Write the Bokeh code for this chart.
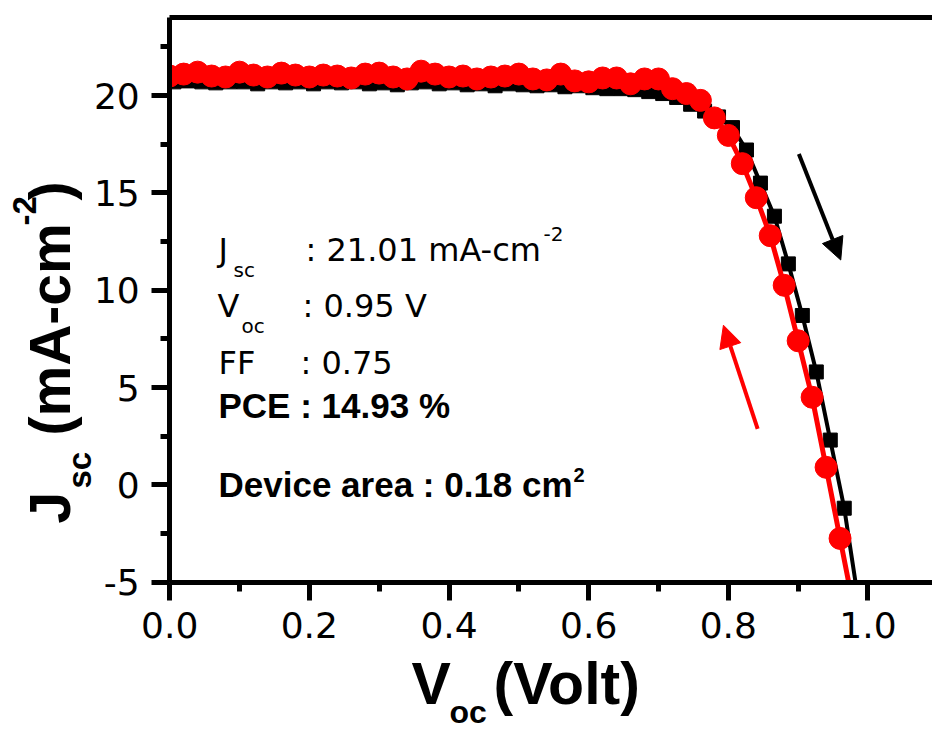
import math
from bokeh.plotting import figure
from bokeh.models import (Range1d, FixedTicker, NumeralTickFormatter, Label, LinearAxis,
                          BoxAnnotation, Arrow, NormalHead)
from bokeh.embed import file_html
from bokeh.resources import INLINE

# Forward scan (red circles): voltage (V) and current density (mA/cm^2)
forward_v = [0.00, 0.02, 0.04, 0.06, 0.08, 0.10, 0.12, 0.14, 0.16, 0.18,
             0.20, 0.22, 0.24, 0.26, 0.28, 0.30, 0.32, 0.34, 0.36, 0.38,
             0.40, 0.42, 0.44, 0.46, 0.48, 0.50, 0.52, 0.54, 0.56, 0.58,
             0.60, 0.62, 0.64, 0.66, 0.68, 0.70, 0.72, 0.74, 0.76, 0.78,
             0.80, 0.82, 0.84, 0.86, 0.88, 0.90, 0.92, 0.94, 0.96, 0.98]
forward_j = [21.00, 21.10, 21.20, 21.00, 20.95, 21.20, 21.05, 20.95, 21.15, 21.05,
             20.95, 21.05, 21.00, 20.90, 21.10, 21.15, 20.95, 20.85, 21.25, 21.10,
             20.95, 21.00, 20.85, 20.95, 21.00, 21.10, 20.85, 20.80, 21.10, 20.75,
             20.70, 20.90, 20.90, 20.60, 20.85, 20.85, 20.35, 20.10, 19.75, 18.85,
             17.95, 16.50, 14.75, 12.80, 10.25, 7.40, 4.50, 0.90, -2.75, -6.40]

# Reverse scan (black squares)
reverse_v = [0.006, 0.026, 0.046, 0.066, 0.086, 0.106, 0.126, 0.146, 0.166, 0.186,
             0.206, 0.226, 0.246, 0.266, 0.286, 0.306, 0.326, 0.346, 0.366, 0.386,
             0.406, 0.426, 0.446, 0.466, 0.486, 0.506, 0.526, 0.546, 0.566, 0.586,
             0.606, 0.626, 0.646, 0.666, 0.686, 0.706, 0.726, 0.746, 0.766, 0.786,
             0.806, 0.826, 0.846, 0.866, 0.886, 0.906, 0.926, 0.946, 0.966, 0.986]
reverse_j = [20.70, 20.75, 20.70, 20.65, 20.70, 20.70, 20.60, 20.70, 20.65, 20.70,
             20.60, 20.70, 20.65, 20.70, 20.60, 20.65, 20.55, 20.65, 20.70, 20.60,
             20.65, 20.55, 20.60, 20.50, 20.60, 20.55, 20.50, 20.55, 20.45, 20.50,
             20.40, 20.35, 20.35, 20.30, 20.20, 20.10, 19.90, 19.55, 19.20, 18.90,
             18.35, 17.20, 15.50, 13.80, 11.35, 8.70, 5.80, 2.30, -1.20, -5.90]

# Axis ticks
x_ticks = [0.0, 0.2, 0.4, 0.6, 0.8, 1.0]
x_minor = [0.1, 0.3, 0.5, 0.7, 0.9]
y_ticks = [-5, 0, 5, 10, 15, 20]
y_minor = [-2.5, 2.5, 7.5, 12.5, 17.5, 22.5]

# Scan-direction arrows: (x_start, y_start, x_end, y_end)
reverse_arrow = (0.901, 17.0, 0.961, 11.55)
forward_arrow = (0.842, 2.88, 0.793, 8.2)

# Device parameters
jsc_text = ": 21.01 mA-cm"
voc_text = ": 0.95 V"
ff_text = ": 0.75"
pce_text = "PCE : 14.93 %"
area_text = "Device area : 0.18 cm"

W, H = 932, 731
# the plot box: x from 0 to the right edge, y from -5 to 24
BOX_X0, BOX_Y0, BOX_Y1 = 0.0, -5.0, 24.0
# full canvas extent in data units (room around the box for axes and titles)
X0, X1 = -0.2423, 1.0924
Y0, Y1 = -12.67, 24.88

p = figure(width=W, height=H, x_range=Range1d(X0, X1), y_range=Range1d(Y0, Y1),
           output_backend="svg", toolbar_location=None,
           x_axis_location=None, y_axis_location=None,
           min_border_left=0, min_border_right=0, min_border_top=0,
           min_border_bottom=0)
p.xgrid.visible = False
p.ygrid.visible = False
p.outline_line_color = None
p.background_fill_color = "white"
p.border_fill_color = "white"


def style_axis(ax):
    ax.axis_line_width = 5
    ax.axis_line_color = "black"
    ax.major_tick_line_width = 5
    ax.minor_tick_line_width = 5
    ax.major_tick_line_color = "black"
    ax.minor_tick_line_color = "black"
    ax.major_tick_in = 0
    ax.major_tick_out = 18
    ax.minor_tick_in = 0
    ax.minor_tick_out = 9
    ax.major_label_text_font = "DejaVu Sans"
    ax.major_label_text_font_size = "36px"
    ax.major_label_text_color = "black"
    ax.major_label_standoff = 12
    ax.axis_label = None


xaxis = LinearAxis(ticker=FixedTicker(ticks=x_ticks, minor_ticks=x_minor),
                   formatter=NumeralTickFormatter(format="0.0"),
                   fixed_location=BOX_Y0, bounds=(BOX_X0, X1))
yaxis = LinearAxis(ticker=FixedTicker(ticks=y_ticks, minor_ticks=y_minor),
                   formatter=NumeralTickFormatter(format="0"),
                   fixed_location=BOX_X0, bounds=(BOX_Y0, BOX_Y1))
top_edge = LinearAxis(ticker=FixedTicker(ticks=[]), fixed_location=BOX_Y1,
                      bounds=(BOX_X0, X1), axis_line_width=5, axis_line_color="black")
style_axis(xaxis)
style_axis(yaxis)
p.add_layout(xaxis, "below")
p.add_layout(yaxis, "left")
p.add_layout(top_edge, "above")

# reverse scan
p.line(reverse_v, reverse_j, line_color="black", line_width=4)
p.scatter(reverse_v, reverse_j, marker="square", size=14,
          fill_color="black", line_color="black")

# forward scan
p.line(forward_v, forward_j, line_color="#ff0000", line_width=5)
p.scatter(forward_v, forward_j, marker="circle", size=22,
          fill_color="#ff0000", line_color="#ff0000")

# white masks so the curves stay inside the plot box
for kw in (dict(top=BOX_Y0), dict(right=BOX_X0), dict(bottom=BOX_Y1)):
    p.add_layout(BoxAnnotation(fill_color="white", fill_alpha=1.0, line_alpha=0.0,
                               level="glyph", **kw))

# scan direction arrows
xs, ys, xe, ye = reverse_arrow
p.add_layout(Arrow(end=NormalHead(size=22, fill_color="black", line_color="black"),
                   x_start=xs, y_start=ys, x_end=xe, y_end=ye,
                   line_color="black", line_width=4))
xs, ys, xe, ye = forward_arrow
p.add_layout(Arrow(end=NormalHead(size=22, fill_color="#ff0000", line_color="#ff0000"),
                   x_start=xs, y_start=ys, x_end=xe, y_end=ye,
                   line_color="#ff0000", line_width=4))


def txt(text, cx, cy, size, font="DejaVu Sans", bold=False, rotated=False):
    """Place a text piece with its baseline-left point at canvas pixel (cx, cy).

    Labels are anchored near the middle of the line box, so the anchor is moved
    from the baseline towards the glyph tops by about 0.39 em.
    """
    shift = 0.39 * size
    if rotated:
        x, y, angle = cx - shift, H - cy, math.pi / 2
    else:
        x, y, angle = cx, H - cy + shift, 0.0
    p.add_layout(Label(x=x, y=y, x_units="screen", y_units="screen",
                       text=text, text_font=font, text_font_size=f"{size}px",
                       text_font_style="bold" if bold else "normal",
                       text_color="black", text_align="left",
                       text_baseline="alphabetic", angle=angle))


# parameter box
txt("J", 218, 262, 32)
txt("sc", 233, 277, 20)
txt(jsc_text, 305, 262, 32)
txt("-2", 543, 241, 20)
txt("V", 217, 318, 32)
txt("oc", 241, 333, 20)
txt(voc_text, 302, 318, 32)
txt("FF", 218, 375, 32)
txt(ff_text, 300, 375, 32)
txt(pce_text, 218, 419, 35, font="Liberation Sans", bold=True)
txt(area_text, 218, 498, 35, font="Liberation Sans", bold=True)
txt("2", 573, 482, 20, font="Liberation Sans", bold=True)

# x axis title
txt("V", 411, 707, 59, font="Liberation Sans", bold=True)
txt("oc", 449, 724, 32, font="Liberation Sans", bold=True)
txt("(Volt)", 493, 707, 59, font="Liberation Sans", bold=True)

# y axis title, reading upwards
txt("J", 72, 523, 57, font="Liberation Sans", bold=True, rotated=True)
txt("sc", 92, 488, 33, font="Liberation Sans", bold=True, rotated=True)
txt("(mA-cm", 72, 435, 57, font="Liberation Sans", bold=True, rotated=True)
txt("-2", 37, 225, 33, font="Liberation Sans", bold=True, rotated=True)
txt(")", 72, 200, 57, font="Liberation Sans", bold=True, rotated=True)

open("out.html", "w").write(file_html(p, INLINE))
